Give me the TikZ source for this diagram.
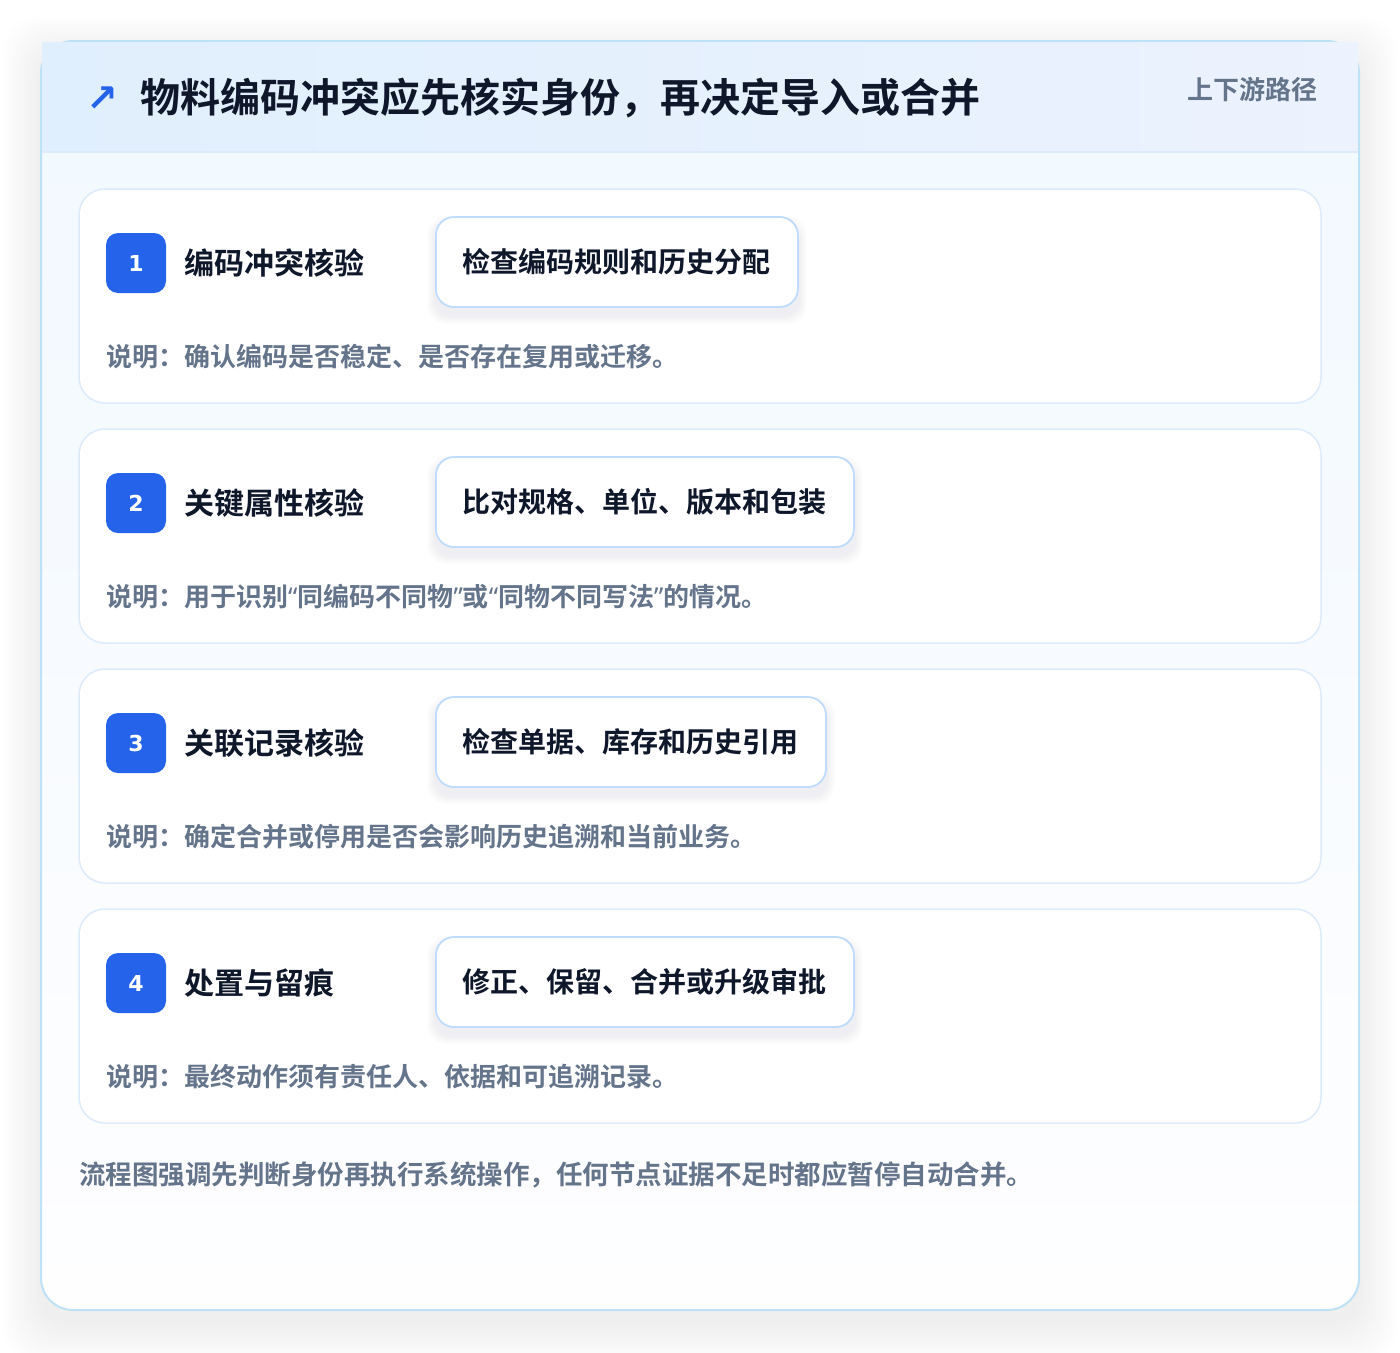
\documentclass[tikz,border=0pt]{standalone}
\usepackage{fontspec}
\setmainfont{Noto Sans CJK SC}[BoldFont={Noto Sans CJK SC Bold}]
\newfontfamily\dejavu{DejaVu Sans}
\newfontfamily\qfont{Noto Sans}
\newcommand\mylq{{\qfont “}}
\newcommand\myrq{{\qfont ”}}
\usetikzlibrary{calc}
\definecolor{brandblue}{HTML}{2563EB}
\definecolor{inkdark}{HTML}{0F172A}
\definecolor{inkgray}{HTML}{64748B}
\definecolor{cardline}{HTML}{BDE1F6}
\definecolor{stepline}{HTML}{DCEAFB}
\definecolor{pillline}{HTML}{BFDBFE}
\definecolor{headL}{HTML}{E0EFFD}
\definecolor{headR}{HTML}{ECF2FE}
\definecolor{bodyT}{HTML}{F1F8FF}
\definecolor{bodyB}{HTML}{FEFEFF}
\definecolor{shadowc}{HTML}{94A3B8}
\pgfdeclarelayer{back}
\pgfdeclarelayer{mid}
\pgfsetlayers{back,mid,main}
\tikzset{
  stepcard/.style={draw=stepline, line width=1.5pt, fill=white, rounded corners=26pt,
    minimum width=1242pt, minimum height=214pt, inner sep=0pt},
  badge/.style={fill=brandblue, rounded corners=12pt, minimum size=60pt, inner sep=0pt,
    text=white, font=\dejavu\bfseries\fontsize{22}{24}\selectfont},
  steptitle/.style={inner sep=0pt, text=inkdark, font=\bfseries\fontsize{30}{34}\selectfont},
  pill/.style={draw=pillline, line width=1.8pt, fill=white, rounded corners=18pt,
    minimum height=90pt, inner xsep=27pt, inner ysep=0pt, text=inkdark,
    font=\bfseries\fontsize{28}{32}\selectfont},
  desc/.style={inner sep=0pt, text=inkgray, font=\bfseries\fontsize{26}{30}\selectfont},
}
\newcommand\mystep[5]{%
  \begin{pgfonlayer}{back}
    \node[stepcard] (card#1) at (700,#2+107) {};
  \end{pgfonlayer}
  \node[badge] (badge#1) at (136,#2+74) {#1};
  \node[steptitle, anchor=west] (title#1) at (184,#2+74) {#3};
  \node[pill, anchor=west] (pill#1) at (435,#2+73) {#4};
  \begin{pgfonlayer}{mid}
    \foreach \d in {1,...,8}{
      \fill[shadowc, opacity=0.016, rounded corners=18pt]
        ($(pill#1.north west)+(-\d,8-\d)$) rectangle ($(pill#1.south east)+(\d,8+\d)$);
    }
  \end{pgfonlayer}
  \node[desc, anchor=west] (desc#1) at (106,#2+168) {#5};
}
\begin{document}
\begin{tikzpicture}[x=1pt,y=-1pt]
\useasboundingbox (0,0) rectangle (1400,1352);
\begin{pgfonlayer}{back}
  \fill[white] (0,0) rectangle (1400,1352);
  % outer soft shadow
  \foreach \d in {1,...,16}{
    \fill[black, opacity=0.0055, rounded corners=34pt]
      (41-\d*2.4, 41-\d*2.4+14) rectangle (1359+\d*2.4, 1310+\d*2.4+14);
  }
  % card body
  \fill[top color=bodyT, bottom color=bodyB, rounded corners=32pt] (41,41) rectangle (1359,1310);
  \draw[cardline, line width=2pt, rounded corners=32pt] (41,41) rectangle (1359,1310);
  % header
  \fill[left color=headL, right color=headR] (42,42) rectangle (1358,152);
  \draw[stepline, line width=1.5pt] (42,152) -- (1358,152);
\end{pgfonlayer}

\node[inner sep=0pt, text=brandblue, font=\dejavu\bfseries\fontsize{38}{40}\selectfont] (icon) at (102,99) {↗};
\node[anchor=west, inner sep=0pt, text=inkdark, font=\bfseries\fontsize{40}{44}\selectfont] (title) at (140,98) {物料编码冲突应先核实身份，再决定导入或合并};
\node[anchor=east, inner sep=0pt, text=inkgray, font=\bfseries\fontsize{26}{30}\selectfont] (tag) at (1318,90) {上下游路径};

\mystep{1}{189}{编码冲突核验}{检查编码规则和历史分配}{说明：确认编码是否稳定、是否存在复用或迁移。}
\mystep{2}{429}{关键属性核验}{比对规格、单位、版本和包装}{说明：用于识别\mylq 同编码不同物\myrq 或\mylq 同物不同写法\myrq 的情况。}
\mystep{3}{669}{关联记录核验}{检查单据、库存和历史引用}{说明：确定合并或停用是否会影响历史追溯和当前业务。}
\mystep{4}{909}{处置与留痕}{修正、保留、合并或升级审批}{说明：最终动作须有责任人、依据和可追溯记录。}

\node[anchor=west, inner sep=0pt, text=inkgray, font=\bfseries\fontsize{26.5}{30}\selectfont] (footer) at (79,1175) {流程图强调先判断身份再执行系统操作，任何节点证据不足时都应暂停自动合并。};
\end{tikzpicture}
\end{document}
